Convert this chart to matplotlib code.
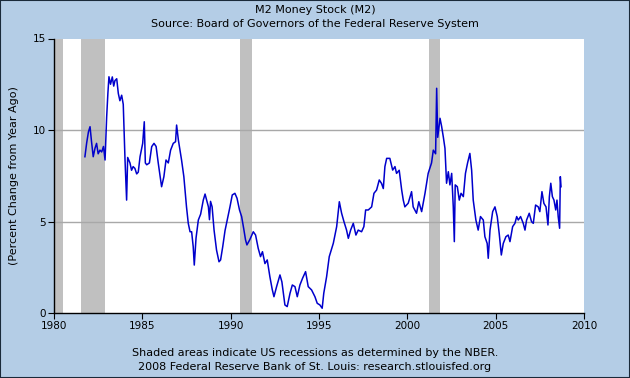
import matplotlib
matplotlib.use("Agg")
import matplotlib.pyplot as plt
from matplotlib.patches import Rectangle

years = [1981.75, 1981.85, 1981.95, 1982.04, 1982.12, 1982.22, 1982.32, 1982.41, 1982.5, 1982.6, 1982.7, 1982.8, 1982.89,
         1982.98, 1983.05, 1983.11, 1983.2, 1983.3, 1983.38, 1983.45, 1983.55, 1983.64, 1983.73, 1983.83, 1983.92,
         1984.02, 1984.11, 1984.17, 1984.3, 1984.39, 1984.48, 1984.58, 1984.68, 1984.77, 1984.87, 1985.02, 1985.11,
         1985.17, 1985.25, 1985.4, 1985.53, 1985.66, 1985.78, 1985.9, 1986.09, 1986.22, 1986.34, 1986.47, 1986.6,
         1986.75, 1986.88, 1986.94, 1987.04, 1987.22, 1987.35, 1987.5, 1987.6, 1987.7, 1987.79, 1987.88, 1987.94,
         1988.04, 1988.17, 1988.3, 1988.45, 1988.55, 1988.64, 1988.74, 1988.8, 1988.86, 1988.95, 1989.06, 1989.2,
         1989.34, 1989.43, 1989.55, 1989.68, 1989.81, 1989.96, 1990.09, 1990.24, 1990.36, 1990.5, 1990.62, 1990.74,
         1990.84, 1990.92, 1991.08, 1991.28, 1991.41, 1991.56, 1991.69, 1991.8, 1991.94, 1992.07, 1992.22, 1992.35,
         1992.45, 1992.6, 1992.79, 1992.9, 1993.07, 1993.2, 1993.36, 1993.49, 1993.64, 1993.77, 1993.92, 1994.07,
         1994.24, 1994.39, 1994.58, 1994.77, 1994.9, 1995.05, 1995.18, 1995.27, 1995.43, 1995.58, 1995.81, 1996.0,
         1996.15, 1996.28, 1996.41, 1996.56, 1996.66, 1996.79, 1996.94, 1997.09, 1997.22, 1997.41, 1997.54, 1997.64,
         1997.79, 1997.98, 1998.11, 1998.26, 1998.41, 1998.54, 1998.64, 1998.73, 1998.83, 1999.01, 1999.17, 1999.3,
         1999.39, 1999.54, 1999.68, 1999.77, 1999.86, 2000.05, 2000.24, 2000.33, 2000.52, 2000.65, 2000.81, 2001.0,
         2001.18, 2001.37, 2001.47, 2001.6, 2001.66, 2001.72, 2001.79, 2001.85, 2001.94, 2002.04, 2002.13, 2002.22,
         2002.32, 2002.41, 2002.51, 2002.6, 2002.66, 2002.71, 2002.83, 2002.94, 2003.04, 2003.17, 2003.29, 2003.41,
         2003.54, 2003.64, 2003.73, 2003.88, 2004.01, 2004.14, 2004.3, 2004.39, 2004.52, 2004.58, 2004.68, 2004.83,
         2004.96, 2005.09, 2005.2, 2005.32, 2005.43, 2005.58, 2005.71, 2005.81, 2005.96, 2006.09, 2006.19, 2006.28,
         2006.41, 2006.56, 2006.66, 2006.75, 2006.9, 2007.03, 2007.13, 2007.26, 2007.41, 2007.5, 2007.62, 2007.73,
         2007.85, 2007.96, 2008.04, 2008.12, 2008.21, 2008.3, 2008.4, 2008.47, 2008.54, 2008.62, 2008.66, 2008.7]
m2_yoy = [8.54, 9.3, 9.9, 10.18, 9.4, 8.54, 9.0, 9.27, 8.7, 8.9, 8.8, 9.1, 8.36,
          10.7, 12.0, 12.91, 12.5, 12.9, 12.4, 12.7, 12.8, 12.0, 11.6, 11.9, 11.4,
          8.36, 6.17, 8.5, 8.2, 7.8, 8.0, 7.9, 7.6, 7.7, 8.54, 9.27, 10.45,
          8.2, 8.1, 8.2, 9.09, 9.27, 9.1, 8.2, 6.9, 7.45, 8.36, 8.2, 8.9,
          9.27, 9.36, 10.27, 9.45, 8.36, 7.45, 5.8, 4.9, 4.44, 4.44, 3.62, 2.62,
          4.1, 5.08, 5.4, 6.17, 6.5, 6.17, 5.8, 5.1, 6.1, 5.8, 4.53, 3.44,
          2.8, 2.9, 3.62, 4.5, 5.1, 5.8, 6.45, 6.54, 6.27, 5.63, 5.27, 4.6,
          4.0, 3.72, 4.0, 4.44, 4.26, 3.53, 3.08, 3.35, 2.7, 2.9, 1.98, 1.3,
          0.89, 1.44, 2.08, 1.7, 0.44, 0.35, 1.08, 1.53, 1.44, 0.89, 1.53, 1.9,
          2.26, 1.44, 1.26, 0.89, 0.53, 0.44, 0.26, 1.08, 1.98, 3.08, 3.81, 4.72,
          6.08, 5.45, 5.0, 4.53, 4.08, 4.53, 4.9, 4.26, 4.53, 4.44, 4.72, 5.63,
          5.63, 5.8, 6.54, 6.72, 7.27, 7.08, 6.8, 8.0, 8.45, 8.45, 7.81, 8.0,
          7.63, 7.8, 6.72, 6.17, 5.8, 6.0, 6.63, 5.8, 5.45, 6.08, 5.54, 6.54,
          7.63, 8.2, 8.9, 8.7, 12.28, 9.6, 10.18, 10.64, 10.2, 9.6, 9.0, 7.09,
          7.72, 7.0, 7.63, 5.81, 3.9, 7.0, 6.9, 6.17, 6.54, 6.36, 7.63, 8.2,
          8.72, 7.8, 6.17, 5.08, 4.53, 5.27, 5.08, 4.17, 3.8, 2.99, 4.53, 5.54,
          5.8, 5.27, 4.35, 3.17, 3.8, 4.17, 4.26, 3.9, 4.72, 4.9, 5.27, 5.08,
          5.27, 4.9, 4.53, 5.08, 5.45, 4.99, 4.9, 5.9, 5.8, 5.54, 6.63, 5.99,
          5.8, 4.81, 6.36, 7.09, 6.36, 6.17, 5.63, 6.17, 5.27, 4.63, 7.45, 6.9]

recessions = [(1980.0, 1980.5), (1981.5, 1982.87), (1990.5, 1991.2), (2001.2, 2001.87)]
x_ticks = [1980, 1985, 1990, 1995, 2000, 2005, 2010]
y_ticks = [0, 5, 10, 15]

bg = "#B4CDE6"
fig = plt.figure(figsize=(6.3, 3.78), dpi=100, facecolor=bg)
ax = fig.add_axes([54/630, 1-313/378, 530/630, 274.5/378])
ax.set_facecolor("white")

for s, e in recessions:
    ax.axvspan(s, e, color="#C0C0C0", lw=0, zorder=1)
for yv in [5, 10]:
    ax.axhline(yv, color="#A8A8A8", lw=1, zorder=2)
ax.plot(years, m2_yoy, color="#0000CC", lw=1.1, zorder=3)

ax.set_xlim(1980, 2010)
ax.set_ylim(0, 15)
ax.set_xticks(x_ticks)
ax.set_yticks(y_ticks)
ax.tick_params(axis="both", labelsize=7.5, length=4, color="black", direction="out", pad=2)
for sp in ["top", "right"]:
    ax.spines[sp].set_visible(False)
for sp in ["left", "bottom"]:
    ax.spines[sp].set_color("black")
    ax.spines[sp].set_linewidth(1)
ax.set_ylabel("(Percent Change from Year Ago)", fontsize=8, labelpad=10)

fig.text(0.5, 1-10/378, "M2 Money Stock (M2)", ha="center", va="center", fontsize=8)
fig.text(0.5, 1-24/378, "Source: Board of Governors of the Federal Reserve System", ha="center", va="center", fontsize=8)
fig.text(0.5, 1-353/378, "Shaded areas indicate US recessions as determined by the NBER.", ha="center", va="center", fontsize=8)
fig.text(0.5, 1-367/378, "2008 Federal Reserve Bank of St. Louis: research.stlouisfed.org", ha="center", va="center", fontsize=8)

fig.patches.append(Rectangle((0, 0), 1, 1, transform=fig.transFigure, fill=False,
                             edgecolor="#1A2A3A", lw=1.5))
fig.savefig("out.png", dpi=100, facecolor=bg)
